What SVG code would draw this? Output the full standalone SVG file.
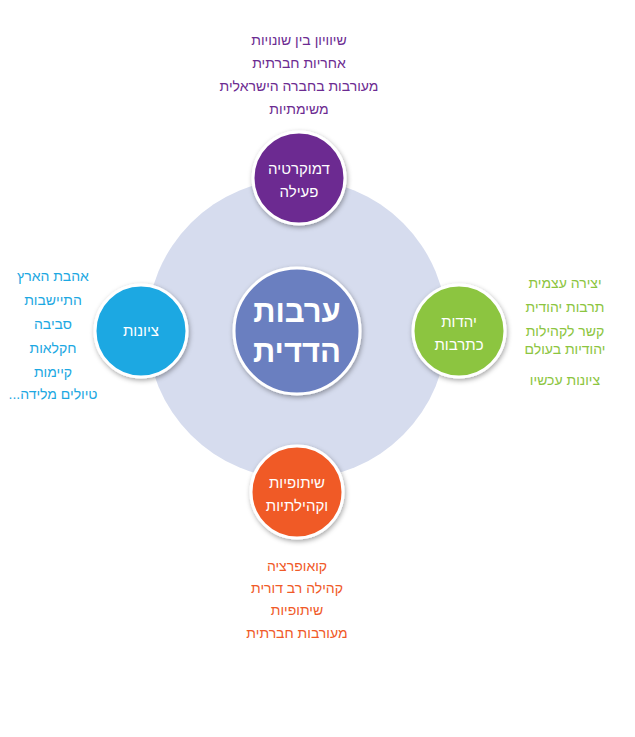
<svg xmlns="http://www.w3.org/2000/svg" width="635" height="737" viewBox="0 0 635 737">
<style>
text{font-family:"Liberation Sans","DejaVu Sans",sans-serif;text-anchor:middle;direction:rtl}
.n{stroke:#fff;stroke-width:3;filter:url(#sh)}
.c{fill:#fff;font-size:15px}
.l{font-size:14px}
</style>
<defs>
<filter id="sh" x="-30%" y="-30%" width="160%" height="160%">
<feDropShadow dx="1" dy="2" stdDeviation="2.5" flood-color="#000" flood-opacity="0.35"/>
</filter>
</defs>
<rect width="635" height="737" fill="#fff"/>
<g id="ring"><circle cx="297" cy="329" r="150" fill="#d6dcee"/></g>
<g id="connectors"></g>
<g id="center">
<circle class="n" cx="297" cy="331" r="63" fill="#6b7fc0"/>
<text x="297" y="322" fill="#fff" font-size="31" font-weight="bold">ערבות</text>
<text x="297" y="362" fill="#fff" font-size="31" font-weight="bold">הדדית</text>
</g>
<g id="top">
<circle class="n" cx="299" cy="178" r="46" fill="#6c2b91"/>
<text class="c" x="299" y="174">דמוקרטיה</text>
<text class="c" x="299" y="197">פעילה</text>
<text class="l" x="299" y="45" fill="#6c2b91">שיוויון בין שונויות</text>
<text class="l" x="299" y="68" fill="#6c2b91">אחריות חברתית</text>
<text class="l" x="299" y="91" fill="#6c2b91">מעורבות בחברה הישראלית</text>
<text class="l" x="299" y="114" fill="#6c2b91">משימתיות</text>
</g>
<g id="right">
<circle class="n" cx="459" cy="331" r="46" fill="#8cc540"/>
<text class="c" x="459" y="327">יהדות</text>
<text class="c" x="459" y="350">כתרבות</text>
<text class="l" x="565" y="288" fill="#8cc540">יצירה עצמית</text>
<text class="l" x="565" y="312" fill="#8cc540">תרבות יהודית</text>
<text class="l" x="565" y="336" fill="#8cc540">קשר לקהילות</text>
<text class="l" x="565" y="354" fill="#8cc540">יהודיות בעולם</text>
<text class="l" x="565" y="385" fill="#8cc540">ציונות עכשיו</text>
</g>
<g id="left">
<circle class="n" cx="141" cy="331" r="46" fill="#1ca8e2"/>
<text class="c" x="141" y="336">ציונות</text>
<text class="l" x="53" y="281" fill="#1ca8e2">אהבת הארץ</text>
<text class="l" x="53" y="305" fill="#1ca8e2">התיישבות</text>
<text class="l" x="53" y="329" fill="#1ca8e2">סביבה</text>
<text class="l" x="53" y="353" fill="#1ca8e2">חקלאות</text>
<text class="l" x="53" y="377" fill="#1ca8e2">קיימות</text>
<text class="l" x="53" y="399" fill="#1ca8e2">טיולים מלידה...</text>
</g>
<g id="bottom">
<circle class="n" cx="297" cy="492" r="46" fill="#f05a28"/>
<text class="c" x="297" y="488">שיתופיות</text>
<text class="c" x="297" y="511">וקהילתיות</text>
<text class="l" x="297" y="571" fill="#f05a28">קואופרציה</text>
<text class="l" x="297" y="593" fill="#f05a28">קהילה רב דורית</text>
<text class="l" x="297" y="615" fill="#f05a28">שיתופיות</text>
<text class="l" x="297" y="638" fill="#f05a28">מעורבות חברתית</text>
</g>
</svg>
